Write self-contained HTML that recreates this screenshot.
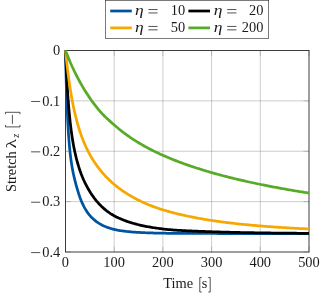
<!DOCTYPE html>
<html><head><meta charset="utf-8"><title>plot</title>
<style>
html,body{margin:0;padding:0;background:#fff;}
body{width:325px;height:297px;overflow:hidden;}
svg{display:block;will-change:transform;}
text{font-family:"Liberation Serif",serif;font-size:14.4px;fill:#1a1a1a;}
.i{font-style:italic;}
.g{stroke:#1a1a1a;stroke-width:0.75;fill:none;}
</style></head><body>
<svg width="325" height="297" viewBox="0 0 325 297">
<rect width="325" height="297" fill="#fff"/>

<path d="M114.20,50.50 V252.00 M162.90,50.50 V252.00 M211.60,50.50 V252.00 M260.30,50.50 V252.00 M65.50,100.88 H309.00 M65.50,151.25 H309.00 M65.50,201.63 H309.00" stroke="#808080" stroke-width="0.4" fill="none"/>
<path d="M65.50,252.00 v-5.50 M65.50,50.50 v5.50 M114.20,252.00 v-5.50 M114.20,50.50 v5.50 M162.90,252.00 v-5.50 M162.90,50.50 v5.50 M211.60,252.00 v-5.50 M211.60,50.50 v5.50 M260.30,252.00 v-5.50 M260.30,50.50 v5.50 M309.00,252.00 v-5.50 M309.00,50.50 v5.50 M65.50,50.50 h5.50 M309.00,50.50 h-5.50 M65.50,100.88 h5.50 M309.00,100.88 h-5.50 M65.50,151.25 h5.50 M309.00,151.25 h-5.50 M65.50,201.63 h5.50 M309.00,201.63 h-5.50 M65.50,252.00 h5.50 M309.00,252.00 h-5.50" stroke="#707070" stroke-width="0.35" fill="none"/>
<rect x="65.50" y="50.50" width="243.50" height="201.50" fill="none" stroke="#333" stroke-width="0.95"/>
<path d="M65.50,50.50 L65.67,58.59 L65.83,66.04 L66.00,72.91 L66.16,79.25 L66.33,85.12 L66.49,90.56 L66.66,95.61 L66.82,100.31 L66.99,104.69 L67.15,108.77 L67.32,112.59 L67.48,116.16 L67.65,119.52 L67.81,122.68 L67.98,125.65 L68.14,128.45 L68.31,131.10 L68.47,133.61 L68.64,135.99 L68.80,138.25 L68.97,140.41 L69.13,142.45 L69.30,144.39 L69.46,146.24 L69.63,148.00 L69.79,149.68 L69.96,151.28 L70.12,152.81 L70.29,154.28 L70.45,155.69 L70.62,157.04 L70.78,158.33 L70.95,159.58 L71.11,160.77 L71.28,161.93 L71.44,163.04 L71.61,164.12 L71.77,165.16 L71.94,166.16 L72.10,167.13 L72.27,168.08 L72.43,168.99 L72.60,169.88 L72.76,170.74 L72.93,171.58 L73.09,172.40 L73.26,173.20 L73.42,173.98 L73.59,174.74 L73.75,175.48 L73.92,176.21 L74.08,176.92 L74.25,177.62 L74.41,178.31 L74.58,178.99 L74.74,179.66 L74.91,180.31 L75.07,180.96 L75.24,181.61 L76.41,186.03 L77.59,190.17 L78.76,193.97 L79.94,197.41 L81.11,200.45 L82.29,203.16 L83.46,205.61 L84.64,207.83 L85.81,209.85 L86.99,211.68 L88.16,213.35 L89.34,214.85 L90.51,216.22 L91.69,217.46 L92.86,218.60 L94.03,219.66 L95.21,220.63 L96.38,221.54 L97.56,222.38 L98.73,223.15 L99.91,223.87 L101.08,224.54 L102.26,225.16 L103.43,225.74 L104.61,226.28 L105.78,226.77 L106.96,227.23 L108.13,227.66 L109.31,228.06 L110.48,228.43 L111.65,228.77 L112.83,229.09 L114.00,229.38 L115.18,229.65 L116.35,229.90 L117.53,230.14 L118.70,230.35 L119.88,230.55 L121.05,230.74 L122.23,230.92 L123.40,231.08 L124.58,231.23 L125.75,231.37 L126.93,231.50 L128.10,231.62 L129.27,231.74 L130.45,231.84 L131.62,231.94 L132.80,232.04 L133.97,232.12 L135.15,232.21 L136.32,232.28 L137.50,232.35 L138.67,232.42 L139.85,232.48 L141.02,232.54 L142.20,232.60 L143.37,232.65 L144.55,232.70 L145.72,232.75 L146.90,232.79 L148.07,232.83 L149.24,232.87 L150.42,232.91 L151.59,232.94 L152.77,232.98 L153.94,233.01 L155.12,233.04 L156.29,233.07 L157.47,233.09 L158.64,233.12 L159.82,233.14 L160.99,233.16 L162.17,233.18 L163.34,233.21 L164.52,233.22 L165.69,233.24 L166.86,233.26 L168.04,233.27 L169.21,233.29 L170.39,233.30 L171.56,233.32 L172.74,233.33 L173.91,233.34 L175.09,233.35 L176.26,233.36 L177.44,233.37 L178.61,233.38 L179.79,233.39 L180.96,233.40 L182.14,233.40 L183.31,233.41 L184.48,233.42 L185.66,233.42 L186.83,233.43 L188.01,233.43 L189.18,233.44 L190.36,233.44 L191.53,233.45 L192.71,233.45 L193.88,233.46 L195.06,233.46 L196.23,233.46 L197.41,233.47 L198.58,233.47 L199.76,233.47 L200.93,233.47 L202.10,233.48 L203.28,233.48 L204.45,233.48 L205.63,233.48 L206.80,233.48 L207.98,233.49 L209.15,233.49 L210.33,233.49 L211.50,233.49 L212.68,233.49 L213.85,233.49 L215.03,233.49 L216.20,233.50 L217.38,233.50 L218.55,233.50 L219.72,233.50 L220.90,233.50 L222.07,233.50 L223.25,233.50 L224.42,233.50 L225.60,233.50 L226.77,233.50 L227.95,233.50 L229.12,233.50 L230.30,233.50 L231.47,233.51 L232.65,233.51 L233.82,233.51 L235.00,233.51 L236.17,233.51 L237.34,233.51 L238.52,233.51 L239.69,233.51 L240.87,233.51 L242.04,233.51 L243.22,233.51 L244.39,233.51 L245.57,233.51 L246.74,233.51 L247.92,233.51 L249.09,233.51 L250.27,233.51 L251.44,233.51 L252.62,233.51 L253.79,233.51 L254.97,233.51 L256.14,233.51 L257.31,233.51 L258.49,233.51 L259.66,233.51 L260.84,233.51 L262.01,233.51 L263.19,233.51 L264.36,233.51 L265.54,233.51 L266.71,233.51 L267.89,233.51 L269.06,233.51 L270.24,233.51 L271.41,233.51 L272.59,233.51 L273.76,233.51 L274.93,233.51 L276.11,233.51 L277.28,233.51 L278.46,233.51 L279.63,233.51 L280.81,233.51 L281.98,233.51 L283.16,233.51 L284.33,233.51 L285.51,233.51 L286.68,233.51 L287.86,233.51 L289.03,233.51 L290.21,233.51 L291.38,233.51 L292.55,233.51 L293.73,233.51 L294.90,233.51 L296.08,233.51 L297.25,233.51 L298.43,233.51 L299.60,233.51 L300.78,233.51 L301.95,233.51 L303.13,233.51 L304.30,233.51 L305.48,233.51 L306.65,233.51 L307.83,233.51 L309.00,233.51" stroke="#00549F" stroke-width="2.75" fill="none" stroke-linejoin="round"/>
<path d="M65.50,50.50 L65.67,54.63 L65.83,58.57 L66.00,62.36 L66.16,65.98 L66.33,69.46 L66.49,72.79 L66.66,75.99 L66.82,79.06 L66.99,82.01 L67.15,84.84 L67.32,87.57 L67.48,90.19 L67.65,92.71 L67.81,95.14 L67.98,97.48 L68.14,99.74 L68.31,101.91 L68.47,104.01 L68.64,106.04 L68.80,108.00 L68.97,109.90 L69.13,111.73 L69.30,113.50 L69.46,115.22 L69.63,116.88 L69.79,118.49 L69.96,120.06 L70.12,121.58 L70.29,123.05 L70.45,124.48 L70.62,125.88 L70.78,127.23 L70.95,128.55 L71.11,129.83 L71.28,131.08 L71.44,132.30 L71.61,133.49 L71.77,134.65 L71.94,135.79 L72.10,136.89 L72.27,137.97 L72.43,139.02 L72.60,140.05 L72.76,141.06 L72.93,142.04 L73.09,143.00 L73.26,143.94 L73.42,144.85 L73.59,145.75 L73.75,146.63 L73.92,147.49 L74.08,148.33 L74.25,149.16 L74.41,149.97 L74.58,150.76 L74.74,151.54 L74.91,152.31 L75.07,153.06 L75.24,153.79 L76.41,158.67 L77.59,163.02 L78.76,166.92 L79.94,170.47 L81.11,173.71 L82.29,176.70 L83.46,179.46 L84.64,182.03 L85.81,184.42 L86.99,186.67 L88.16,188.79 L89.34,190.79 L90.51,192.68 L91.69,194.47 L92.86,196.17 L94.03,197.78 L95.21,199.31 L96.38,200.77 L97.56,202.15 L98.73,203.46 L99.91,204.72 L101.08,205.91 L102.26,207.04 L103.43,208.12 L104.61,209.14 L105.78,210.11 L106.96,211.04 L108.13,211.92 L109.31,212.75 L110.48,213.55 L111.65,214.30 L112.83,215.01 L114.00,215.68 L115.18,216.32 L116.35,216.92 L117.53,217.49 L118.70,218.04 L119.88,218.56 L121.05,219.07 L122.23,219.56 L123.40,220.03 L124.58,220.48 L125.75,220.91 L126.93,221.33 L128.10,221.73 L129.27,222.12 L130.45,222.49 L131.62,222.85 L132.80,223.20 L133.97,223.53 L135.15,223.86 L136.32,224.17 L137.50,224.47 L138.67,224.76 L139.85,225.04 L141.02,225.31 L142.20,225.57 L143.37,225.82 L144.55,226.07 L145.72,226.30 L146.90,226.53 L148.07,226.75 L149.24,226.96 L150.42,227.17 L151.59,227.36 L152.77,227.56 L153.94,227.74 L155.12,227.92 L156.29,228.09 L157.47,228.26 L158.64,228.42 L159.82,228.58 L160.99,228.73 L162.17,228.88 L163.34,229.02 L164.52,229.16 L165.69,229.28 L166.86,229.40 L168.04,229.52 L169.21,229.63 L170.39,229.73 L171.56,229.83 L172.74,229.93 L173.91,230.02 L175.09,230.10 L176.26,230.19 L177.44,230.26 L178.61,230.34 L179.79,230.41 L180.96,230.48 L182.14,230.55 L183.31,230.61 L184.48,230.67 L185.66,230.73 L186.83,230.78 L188.01,230.84 L189.18,230.89 L190.36,230.94 L191.53,230.99 L192.71,231.04 L193.88,231.09 L195.06,231.13 L196.23,231.18 L197.41,231.22 L198.58,231.27 L199.76,231.31 L200.93,231.35 L202.10,231.39 L203.28,231.44 L204.45,231.48 L205.63,231.52 L206.80,231.56 L207.98,231.60 L209.15,231.64 L210.33,231.68 L211.50,231.73 L212.68,231.77 L213.85,231.81 L215.03,231.85 L216.20,231.88 L217.38,231.92 L218.55,231.96 L219.72,231.99 L220.90,232.03 L222.07,232.06 L223.25,232.09 L224.42,232.12 L225.60,232.16 L226.77,232.19 L227.95,232.22 L229.12,232.24 L230.30,232.27 L231.47,232.30 L232.65,232.33 L233.82,232.35 L235.00,232.38 L236.17,232.41 L237.34,232.43 L238.52,232.46 L239.69,232.48 L240.87,232.50 L242.04,232.53 L243.22,232.55 L244.39,232.57 L245.57,232.60 L246.74,232.62 L247.92,232.64 L249.09,232.66 L250.27,232.68 L251.44,232.70 L252.62,232.72 L253.79,232.74 L254.97,232.76 L256.14,232.78 L257.31,232.80 L258.49,232.82 L259.66,232.84 L260.84,232.86 L262.01,232.87 L263.19,232.89 L264.36,232.91 L265.54,232.93 L266.71,232.94 L267.89,232.96 L269.06,232.97 L270.24,232.99 L271.41,233.00 L272.59,233.02 L273.76,233.03 L274.93,233.04 L276.11,233.06 L277.28,233.07 L278.46,233.08 L279.63,233.10 L280.81,233.11 L281.98,233.12 L283.16,233.13 L284.33,233.14 L285.51,233.15 L286.68,233.17 L287.86,233.18 L289.03,233.19 L290.21,233.20 L291.38,233.21 L292.55,233.22 L293.73,233.22 L294.90,233.23 L296.08,233.24 L297.25,233.25 L298.43,233.26 L299.60,233.27 L300.78,233.28 L301.95,233.28 L303.13,233.29 L304.30,233.30 L305.48,233.31 L306.65,233.31 L307.83,233.32 L309.00,233.33" stroke="#000" stroke-width="2.75" fill="none" stroke-linejoin="round"/>
<path d="M65.50,50.50 L65.67,52.17 L65.83,53.82 L66.00,55.43 L66.16,57.02 L66.33,58.58 L66.49,60.11 L66.66,61.62 L66.82,63.10 L66.99,64.56 L67.15,65.99 L67.32,67.40 L67.48,68.79 L67.65,70.15 L67.81,71.49 L67.98,72.81 L68.14,74.11 L68.31,75.39 L68.47,76.64 L68.64,77.88 L68.80,79.10 L68.97,80.29 L69.13,81.47 L69.30,82.63 L69.46,83.77 L69.63,84.90 L69.79,86.00 L69.96,87.09 L70.12,88.17 L70.29,89.22 L70.45,90.26 L70.62,91.29 L70.78,92.30 L70.95,93.29 L71.11,94.27 L71.28,95.24 L71.44,96.19 L71.61,97.13 L71.77,98.05 L71.94,98.96 L72.10,99.86 L72.27,100.74 L72.43,101.62 L72.60,102.48 L72.76,103.32 L72.93,104.16 L73.09,104.99 L73.26,105.80 L73.42,106.60 L73.59,107.39 L73.75,108.18 L73.92,108.95 L74.08,109.71 L74.25,110.46 L74.41,111.20 L74.58,111.93 L74.74,112.65 L74.91,113.36 L75.07,114.07 L75.24,114.76 L76.41,119.46 L77.59,123.78 L78.76,127.77 L79.94,131.47 L81.11,134.91 L82.29,138.11 L83.46,141.10 L84.64,143.91 L85.81,146.55 L86.99,149.04 L88.16,151.39 L89.34,153.62 L90.51,155.74 L91.69,157.76 L92.86,159.69 L94.03,161.53 L95.21,163.29 L96.38,164.98 L97.56,166.61 L98.73,168.17 L99.91,169.67 L101.08,171.12 L102.26,172.52 L103.43,173.87 L104.61,175.18 L105.78,176.44 L106.96,177.66 L108.13,178.84 L109.31,179.99 L110.48,181.09 L111.65,182.17 L112.83,183.21 L114.00,184.21 L115.18,185.19 L116.35,186.14 L117.53,187.07 L118.70,187.97 L119.88,188.85 L121.05,189.70 L122.23,190.53 L123.40,191.35 L124.58,192.14 L125.75,192.91 L126.93,193.66 L128.10,194.39 L129.27,195.11 L130.45,195.80 L131.62,196.49 L132.80,197.15 L133.97,197.80 L135.15,198.43 L136.32,199.05 L137.50,199.65 L138.67,200.24 L139.85,200.82 L141.02,201.38 L142.20,201.93 L143.37,202.47 L144.55,202.99 L145.72,203.51 L146.90,204.01 L148.07,204.50 L149.24,204.97 L150.42,205.44 L151.59,205.90 L152.77,206.35 L153.94,206.78 L155.12,207.21 L156.29,207.63 L157.47,208.03 L158.64,208.43 L159.82,208.82 L160.99,209.20 L162.17,209.58 L163.34,209.94 L164.52,210.30 L165.69,210.65 L166.86,210.99 L168.04,211.33 L169.21,211.66 L170.39,211.98 L171.56,212.30 L172.74,212.62 L173.91,212.92 L175.09,213.23 L176.26,213.52 L177.44,213.81 L178.61,214.10 L179.79,214.38 L180.96,214.66 L182.14,214.93 L183.31,215.20 L184.48,215.46 L185.66,215.72 L186.83,215.97 L188.01,216.22 L189.18,216.47 L190.36,216.71 L191.53,216.95 L192.71,217.18 L193.88,217.41 L195.06,217.63 L196.23,217.86 L197.41,218.07 L198.58,218.29 L199.76,218.50 L200.93,218.71 L202.10,218.91 L203.28,219.11 L204.45,219.31 L205.63,219.50 L206.80,219.70 L207.98,219.88 L209.15,220.07 L210.33,220.25 L211.50,220.43 L212.68,220.61 L213.85,220.78 L215.03,220.96 L216.20,221.12 L217.38,221.29 L218.55,221.45 L219.72,221.62 L220.90,221.77 L222.07,221.93 L223.25,222.08 L224.42,222.24 L225.60,222.39 L226.77,222.53 L227.95,222.68 L229.12,222.82 L230.30,222.96 L231.47,223.10 L232.65,223.24 L233.82,223.37 L235.00,223.50 L236.17,223.63 L237.34,223.76 L238.52,223.89 L239.69,224.01 L240.87,224.14 L242.04,224.26 L243.22,224.38 L244.39,224.50 L245.57,224.61 L246.74,224.73 L247.92,224.84 L249.09,224.95 L250.27,225.06 L251.44,225.17 L252.62,225.27 L253.79,225.38 L254.97,225.48 L256.14,225.58 L257.31,225.69 L258.49,225.78 L259.66,225.88 L260.84,225.98 L262.01,226.07 L263.19,226.17 L264.36,226.26 L265.54,226.35 L266.71,226.44 L267.89,226.53 L269.06,226.62 L270.24,226.70 L271.41,226.79 L272.59,226.87 L273.76,226.95 L274.93,227.03 L276.11,227.11 L277.28,227.19 L278.46,227.27 L279.63,227.35 L280.81,227.43 L281.98,227.50 L283.16,227.57 L284.33,227.65 L285.51,227.72 L286.68,227.79 L287.86,227.86 L289.03,227.93 L290.21,228.00 L291.38,228.06 L292.55,228.13 L293.73,228.19 L294.90,228.26 L296.08,228.32 L297.25,228.39 L298.43,228.45 L299.60,228.51 L300.78,228.57 L301.95,228.63 L303.13,228.69 L304.30,228.74 L305.48,228.80 L306.65,228.86 L307.83,228.91 L309.00,228.97" stroke="#F6A800" stroke-width="2.75" fill="none" stroke-linejoin="round"/>
<path d="M65.50,50.50 L65.67,50.93 L65.83,51.36 L66.00,51.78 L66.16,52.21 L66.33,52.63 L66.49,53.05 L66.66,53.47 L66.82,53.88 L66.99,54.30 L67.15,54.71 L67.32,55.12 L67.48,55.53 L67.65,55.94 L67.81,56.34 L67.98,56.75 L68.14,57.15 L68.31,57.55 L68.47,57.95 L68.64,58.35 L68.80,58.75 L68.97,59.14 L69.13,59.53 L69.30,59.92 L69.46,60.31 L69.63,60.70 L69.79,61.09 L69.96,61.47 L70.12,61.85 L70.29,62.23 L70.45,62.61 L70.62,62.99 L70.78,63.37 L70.95,63.74 L71.11,64.12 L71.28,64.49 L71.44,64.86 L71.61,65.23 L71.77,65.60 L71.94,65.96 L72.10,66.33 L72.27,66.69 L72.43,67.05 L72.60,67.41 L72.76,67.77 L72.93,68.12 L73.09,68.48 L73.26,68.83 L73.42,69.19 L73.59,69.54 L73.75,69.89 L73.92,70.23 L74.08,70.58 L74.25,70.93 L74.41,71.27 L74.58,71.61 L74.74,71.95 L74.91,72.29 L75.07,72.63 L75.24,72.97 L76.41,75.33 L77.59,77.62 L78.76,79.85 L79.94,82.01 L81.11,84.12 L82.29,86.17 L83.46,88.16 L84.64,90.10 L85.81,91.99 L86.99,93.83 L88.16,95.62 L89.34,97.36 L90.51,99.06 L91.69,100.72 L92.86,102.33 L94.03,103.90 L95.21,105.43 L96.38,106.93 L97.56,108.39 L98.73,109.81 L99.91,111.20 L101.08,112.54 L102.26,113.82 L103.43,115.04 L104.61,116.22 L105.78,117.36 L106.96,118.47 L108.13,119.55 L109.31,120.61 L110.48,121.65 L111.65,122.68 L112.83,123.71 L114.00,124.75 L115.18,125.78 L116.35,126.79 L117.53,127.79 L118.70,128.76 L119.88,129.71 L121.05,130.65 L122.23,131.57 L123.40,132.47 L124.58,133.35 L125.75,134.21 L126.93,135.06 L128.10,135.90 L129.27,136.72 L130.45,137.52 L131.62,138.31 L132.80,139.09 L133.97,139.85 L135.15,140.60 L136.32,141.34 L137.50,142.07 L138.67,142.78 L139.85,143.48 L141.02,144.17 L142.20,144.85 L143.37,145.52 L144.55,146.18 L145.72,146.83 L146.90,147.47 L148.07,148.10 L149.24,148.72 L150.42,149.33 L151.59,149.93 L152.77,150.52 L153.94,151.11 L155.12,151.68 L156.29,152.25 L157.47,152.81 L158.64,153.36 L159.82,153.91 L160.99,154.45 L162.17,154.98 L163.34,155.50 L164.52,156.02 L165.69,156.53 L166.86,157.04 L168.04,157.54 L169.21,158.03 L170.39,158.51 L171.56,158.99 L172.74,159.47 L173.91,159.94 L175.09,160.40 L176.26,160.86 L177.44,161.31 L178.61,161.76 L179.79,162.20 L180.96,162.64 L182.14,163.07 L183.31,163.50 L184.48,163.93 L185.66,164.35 L186.83,164.76 L188.01,165.17 L189.18,165.58 L190.36,165.98 L191.53,166.38 L192.71,166.77 L193.88,167.16 L195.06,167.54 L196.23,167.93 L197.41,168.30 L198.58,168.68 L199.76,169.05 L200.93,169.42 L202.10,169.78 L203.28,170.14 L204.45,170.50 L205.63,170.85 L206.80,171.20 L207.98,171.55 L209.15,171.89 L210.33,172.23 L211.50,172.57 L212.68,172.91 L213.85,173.24 L215.03,173.57 L216.20,173.89 L217.38,174.21 L218.55,174.53 L219.72,174.85 L220.90,175.17 L222.07,175.48 L223.25,175.79 L224.42,176.10 L225.60,176.40 L226.77,176.70 L227.95,177.00 L229.12,177.30 L230.30,177.59 L231.47,177.88 L232.65,178.17 L233.82,178.46 L235.00,178.75 L236.17,179.03 L237.34,179.31 L238.52,179.59 L239.69,179.86 L240.87,180.14 L242.04,180.41 L243.22,180.68 L244.39,180.95 L245.57,181.21 L246.74,181.48 L247.92,181.74 L249.09,182.00 L250.27,182.26 L251.44,182.51 L252.62,182.76 L253.79,183.02 L254.97,183.27 L256.14,183.51 L257.31,183.76 L258.49,184.01 L259.66,184.25 L260.84,184.49 L262.01,184.73 L263.19,184.97 L264.36,185.20 L265.54,185.44 L266.71,185.67 L267.89,185.90 L269.06,186.13 L270.24,186.36 L271.41,186.58 L272.59,186.81 L273.76,187.03 L274.93,187.25 L276.11,187.47 L277.28,187.69 L278.46,187.91 L279.63,188.12 L280.81,188.34 L281.98,188.55 L283.16,188.76 L284.33,188.97 L285.51,189.18 L286.68,189.39 L287.86,189.59 L289.03,189.79 L290.21,190.00 L291.38,190.20 L292.55,190.40 L293.73,190.60 L294.90,190.79 L296.08,190.99 L297.25,191.19 L298.43,191.38 L299.60,191.57 L300.78,191.76 L301.95,191.95 L303.13,192.14 L304.30,192.33 L305.48,192.51 L306.65,192.70 L307.83,192.88 L309.00,193.07" stroke="#57AB27" stroke-width="2.75" fill="none" stroke-linejoin="round"/>
<text x="65.45" y="267" text-anchor="middle">0</text>
<text x="114.15" y="267" text-anchor="middle">100</text>
<text x="162.85" y="267" text-anchor="middle">200</text>
<text x="211.55" y="267" text-anchor="middle">300</text>
<text x="260.25" y="267" text-anchor="middle">400</text>
<text x="308.95" y="267" text-anchor="middle">500</text>
<text x="60.3" y="55.30" text-anchor="end">0</text>
<text x="60.3" y="105.67" text-anchor="end">0.1</text>
<path class="g" d="M31.1,101.47 H40.2"/>
<text x="60.3" y="156.05" text-anchor="end">0.2</text>
<path class="g" d="M31.1,151.85 H40.2"/>
<text x="60.3" y="206.43" text-anchor="end">0.3</text>
<path class="g" d="M31.1,202.23 H40.2"/>
<text x="60.3" y="256.80" text-anchor="end">0.4</text>
<path class="g" d="M31.1,252.60 H40.2"/>
<text x="163.2" y="288.4">Time</text>
<text x="201.8" y="288.4">s</text>
<path class="g" d="M201.7,277.5 H199.8 V292.0 H201.7 M208.3,277.5 H210.2 V292.0 H208.3"/>
<g transform="translate(16.4,0) rotate(-90)">
<text x="-192.0" y="0">Stretch</text>
<text transform="translate(-148.4,0) scale(1.35,1)" x="0" y="0" style="font-size:14.6px">λ</text>
<text x="-137.8" y="2.4" style="font-size:10px" class="i">z</text>
<path class="g" d="M-125.0,-10.9 H-126.9 V3.6 H-125.0 M-114.2,-10.9 H-112.3 V3.6 H-114.2 M-123.9,-4.0 H-114.8"/>
</g>
<rect x="105.5" y="0.55" width="163.2" height="37.95" fill="#fff" stroke="#222" stroke-width="0.6"/>
<path d="M110.20,11.00 h21.6" stroke="#00549F" stroke-width="2.75"/><text transform="translate(134.90,14.95) scale(1.22,1)" class="i" style="font-size:14.4px">η</text><path class="g" d="M148.40,9.55 h9.2 M148.40,12.95 h9.2"/><text x="185.20" y="14.95" text-anchor="end">10</text>
<path d="M188.40,11.00 h21.6" stroke="#000" stroke-width="2.75"/><text transform="translate(213.70,14.95) scale(1.22,1)" class="i" style="font-size:14.4px">η</text><path class="g" d="M227.20,9.55 h9.2 M227.20,12.95 h9.2"/><text x="263.40" y="14.95" text-anchor="end">20</text>
<path d="M110.20,27.90 h21.6" stroke="#F6A800" stroke-width="2.75"/><text transform="translate(134.90,31.85) scale(1.22,1)" class="i" style="font-size:14.4px">η</text><path class="g" d="M148.40,26.45 h9.2 M148.40,29.85 h9.2"/><text x="185.20" y="31.85" text-anchor="end">50</text>
<path d="M188.40,27.90 h21.6" stroke="#57AB27" stroke-width="2.75"/><text transform="translate(213.70,31.85) scale(1.22,1)" class="i" style="font-size:14.4px">η</text><path class="g" d="M227.20,26.45 h9.2 M227.20,29.85 h9.2"/><text x="263.40" y="31.85" text-anchor="end">200</text>
</svg></body></html>
